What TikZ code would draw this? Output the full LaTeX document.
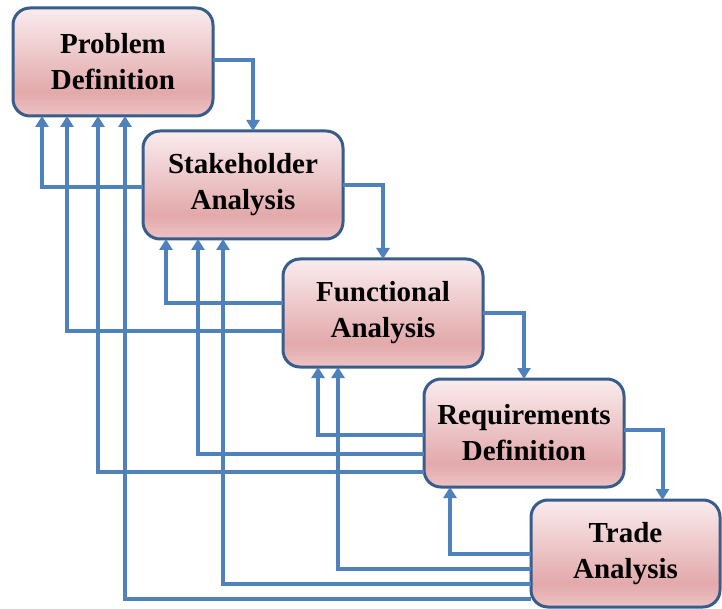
\documentclass[tikz,border=0pt]{standalone}
\usepackage{fontspec}
\setmainfont{Liberation Serif}
\usetikzlibrary{positioning,arrows.meta}

\definecolor{edgeblue}{HTML}{385D8A}
\definecolor{flowblue}{HTML}{4F81BD}
\definecolor{pinktop}{HTML}{F9ECEE}
\definecolor{pinkdark}{HTML}{E3A9AB}
\definecolor{pinkbot}{HTML}{EDC3C4}
\pgfdeclareverticalshading{stageshade}{100bp}{color(0bp)=(pinkbot); color(25bp)=(pinkbot); color(36bp)=(pinkdark); color(75bp)=(pinktop); color(100bp)=(pinktop)}

\newcommand\wid{200pt}
\newcommand\hei{108pt}

\tikzset{
  stage/.style={draw=edgeblue, line width=3pt, rounded corners=17pt,
    shading=stageshade, minimum width=\wid, minimum height=\hei,
    inner sep=0pt, outer sep=0pt, align=center, anchor=north west,
    font=\bfseries\fontsize{29}{36}\selectfont},
  flow/.style={draw=flowblue, line width=4pt,
    -{Triangle[length=11pt,width=13pt]}},
}

\begin{document}
\begin{tikzpicture}[x=1pt, y=-1pt]
  \useasboundingbox (0,0) rectangle (722,609);
  \clip (0,0) rectangle (722,609);

  \node [stage] (pd) at (13,8) {Problem\\Definition};
  \node [stage, below right=15pt and 30pt of pd.south] (sa) {Stakeholder\\Analysis};
  \node [stage, below right=20pt and 40pt of sa.south] (fa) {Functional\\Analysis};
  \node [stage, below right=12pt and 41pt of fa.south] (rd) {Requirements\\Definition};
  \node [stage, below right=13pt and 7pt of rd.south, minimum width=189pt, minimum height=107pt] (ta) {Trade\\Analysis};

  % forward steps
  \draw [flow] ([yshift=2pt]pd.east) -| ([xshift=10pt]sa.north);
  \draw [flow] (sa.east) -| (fa.north);
  \draw [flow] (fa.east) -| (rd.north);
  \draw [flow] ([yshift=3pt]rd.east) -| ([xshift=37pt]ta.north);

  % feedback to problem definition
  \draw [flow] ([yshift=-2pt]sa.west) -| ([xshift=29pt]pd.south west);
  \draw [flow] ([yshift=-18pt]fa.west) -| ([xshift=54pt]pd.south west);
  \draw [flow] ([yshift=-39pt]rd.west) -| ([xshift=85pt]pd.south west);
  \draw [flow] ([yshift=-45pt]ta.west) -| ([xshift=112pt]pd.south west);
  % feedback to stakeholder analysis
  \draw [flow] ([yshift=10pt]fa.west) -| ([xshift=23pt]sa.south west);
  \draw [flow] ([yshift=-21pt]rd.west) -| ([xshift=55pt]sa.south west);
  \draw [flow] ([yshift=-30pt]ta.west) -| ([xshift=80pt]sa.south west);
  % feedback to functional analysis
  \draw [flow] ([yshift=-2pt]rd.west) -| ([xshift=35pt]fa.south west);
  \draw [flow] ([yshift=-15pt]ta.west) -| ([xshift=55pt]fa.south west);
  % feedback to requirements definition
  \draw [flow] (ta.west) -| ([xshift=26pt]rd.south west);
\end{tikzpicture}
\end{document}
